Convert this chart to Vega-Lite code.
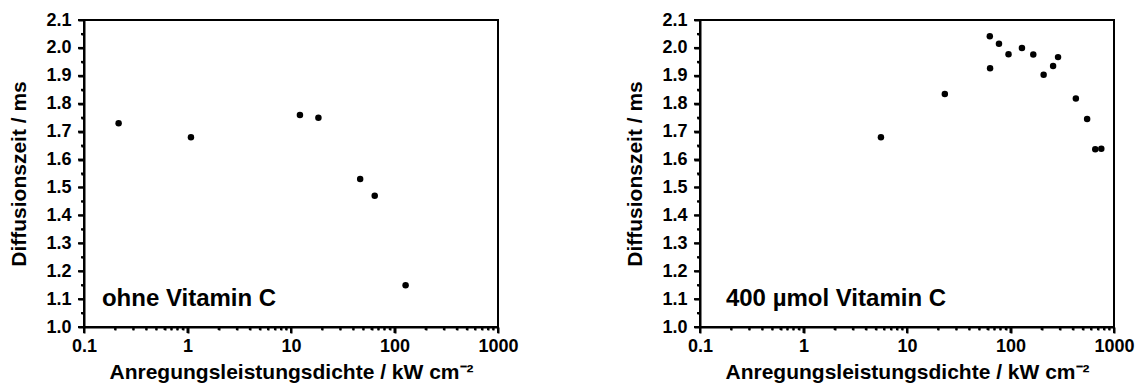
{
  "$schema": "https://vega.github.io/schema/vega-lite/v6.json",
  "padding": {"left": 7, "top": 10, "right": 0, "bottom": 0},
  "background": "white",
  "config": {
    "font": "Liberation Sans",
    "view": {"stroke": "black", "strokeWidth": 2},
    "axis": {
      "grid": false,
      "domain": true,
      "domainColor": "black",
      "domainWidth": 2,
      "ticks": true,
      "tickColor": "black",
      "tickWidth": 2,
      "labelFont": "Liberation Sans",
      "labelFontWeight": "bold",
      "labelFontSize": 18,
      "labelColor": "black",
      "titleFont": "Liberation Sans",
      "titleFontWeight": "bold",
      "titleFontSize": 21,
      "titleColor": "black"
    },
    "concat": {"spacing": 103}
  },
  "datasets": {
    "ohne": [
      {"P": 0.216, "t": 1.73},
      {"P": 1.08, "t": 1.68},
      {"P": 12.2, "t": 1.76},
      {"P": 18.4, "t": 1.75},
      {"P": 46.6, "t": 1.53},
      {"P": 64.4, "t": 1.47},
      {"P": 128, "t": 1.15}
    ],
    "vitc": [
      {"P": 5.6, "t": 1.68},
      {"P": 23.2, "t": 1.835},
      {"P": 63.1, "t": 2.042},
      {"P": 63.5, "t": 1.927},
      {"P": 77.4, "t": 2.015},
      {"P": 95.7, "t": 1.977},
      {"P": 129, "t": 2.0},
      {"P": 166, "t": 1.976},
      {"P": 209, "t": 1.904},
      {"P": 258, "t": 1.935},
      {"P": 288, "t": 1.967},
      {"P": 428, "t": 1.819},
      {"P": 550, "t": 1.745},
      {"P": 659, "t": 1.637},
      {"P": 754, "t": 1.639}
    ],
    "xticks": [
      {"v": 0.1, "kind": "major"}, {"v": 0.2, "kind": "minor"}, {"v": 0.3, "kind": "minor"}, {"v": 0.4, "kind": "minor"}, {"v": 0.5, "kind": "minor"}, {"v": 0.6, "kind": "minor"}, {"v": 0.7, "kind": "minor"}, {"v": 0.8, "kind": "minor"}, {"v": 0.9, "kind": "minor"},
      {"v": 1, "kind": "major"}, {"v": 2, "kind": "minor"}, {"v": 3, "kind": "minor"}, {"v": 4, "kind": "minor"}, {"v": 5, "kind": "minor"}, {"v": 6, "kind": "minor"}, {"v": 7, "kind": "minor"}, {"v": 8, "kind": "minor"}, {"v": 9, "kind": "minor"},
      {"v": 10, "kind": "major"}, {"v": 20, "kind": "minor"}, {"v": 30, "kind": "minor"}, {"v": 40, "kind": "minor"}, {"v": 50, "kind": "minor"}, {"v": 60, "kind": "minor"}, {"v": 70, "kind": "minor"}, {"v": 80, "kind": "minor"}, {"v": 90, "kind": "minor"},
      {"v": 100, "kind": "major"}, {"v": 200, "kind": "minor"}, {"v": 300, "kind": "minor"}, {"v": 400, "kind": "minor"}, {"v": 500, "kind": "minor"}, {"v": 600, "kind": "minor"}, {"v": 700, "kind": "minor"}, {"v": 800, "kind": "minor"}, {"v": 900, "kind": "minor"},
      {"v": 1000, "kind": "major"}
    ],
    "yticks": [
      {"v": 1.0, "kind": "major"}, {"v": 1.05, "kind": "minor"}, {"v": 1.1, "kind": "major"}, {"v": 1.15, "kind": "minor"},
      {"v": 1.2, "kind": "major"}, {"v": 1.25, "kind": "minor"}, {"v": 1.3, "kind": "major"}, {"v": 1.35, "kind": "minor"},
      {"v": 1.4, "kind": "major"}, {"v": 1.45, "kind": "minor"}, {"v": 1.5, "kind": "major"}, {"v": 1.55, "kind": "minor"},
      {"v": 1.6, "kind": "major"}, {"v": 1.65, "kind": "minor"}, {"v": 1.7, "kind": "major"}, {"v": 1.75, "kind": "minor"},
      {"v": 1.8, "kind": "major"}, {"v": 1.85, "kind": "minor"}, {"v": 1.9, "kind": "major"}, {"v": 1.95, "kind": "minor"},
      {"v": 2.0, "kind": "major"}, {"v": 2.05, "kind": "minor"}, {"v": 2.1, "kind": "major"}
    ]
  },
  "hconcat": [
    {
      "width": 414,
      "height": 307,
      "resolve": {"axis": {"x": "independent", "y": "independent"}},
      "layer": [
        {
          "data": {"name": "ohne"},
          "mark": {"type": "circle", "size": 42, "color": "black", "opacity": 1},
          "encoding": {
            "x": {
              "field": "P", "type": "quantitative",
              "scale": {"type": "log", "domain": [0.1, 1000], "nice": false},
              "axis": {
                "orient": "bottom",
                "title": "Anregungsleistungsdichte / kW cm⁻²",
                "values": [0.1, 1, 10, 100, 1000],
                "labelExpr": "'' + datum.value",
                "labelFlush": false,
                "labelPadding": 4,
                "titlePadding": 6,
                "tickSize": 6
              }
            },
            "y": {
              "field": "t", "type": "quantitative",
              "scale": {"domain": [1.0, 2.1], "zero": false, "nice": false},
              "axis": {
                "orient": "left",
                "title": "Diffusionszeit / ms",
                "values": [1.0, 1.1, 1.2, 1.3, 1.4, 1.5, 1.6, 1.7, 1.8, 1.9, 2.0, 2.1],
                "format": ".1f",
                "labelPadding": 7,
                "titlePadding": 16,
                "tickSize": 6
              }
            }
          }
        },
        {
          "data": {"values": [{}]},
          "mark": {"type": "text", "align": "left", "baseline": "alphabetic", "fontSize": 24, "fontWeight": "bold", "font": "Liberation Sans", "color": "black"},
          "encoding": {
            "x": {
              "datum": 0.149, "type": "quantitative",
              "axis": {
                "orient": "bottom", "title": null, "labels": false, "domain": false, "tickSize": 3,
                "values": [0.2,0.3,0.4,0.5,0.6,0.7,0.8,0.9,2,3,4,5,6,7,8,9,20,30,40,50,60,70,80,90,200,300,400,500,600,700,800,900]
              }
            },
            "y": {
              "datum": 1.075, "type": "quantitative",
              "axis": {
                "orient": "left", "title": null, "labels": false, "domain": false, "tickSize": 3,
                "values": [1.05, 1.15, 1.25, 1.35, 1.45, 1.55, 1.65, 1.75, 1.85, 1.95, 2.05]
              }
            },
            "text": {"value": "ohne Vitamin C"}
          }
        },
        {
          "data": {"name": "xticks"},
          "transform": [{"filter": "datum.kind == 'major'"}],
          "mark": {"type": "tick", "orient": "vertical", "size": 6, "thickness": 2, "yOffset": 3, "color": "black", "opacity": 1},
          "encoding": {
            "x": {"field": "v", "type": "quantitative", "axis": null},
            "y": {"datum": 1.0, "type": "quantitative", "axis": null}
          }
        },
        {
          "data": {"name": "xticks"},
          "transform": [{"filter": "datum.kind == 'minor'"}],
          "mark": {"type": "tick", "orient": "vertical", "size": 3, "thickness": 2, "yOffset": 1.5, "color": "black", "opacity": 1},
          "encoding": {
            "x": {"field": "v", "type": "quantitative", "axis": null},
            "y": {"datum": 1.0, "type": "quantitative", "axis": null}
          }
        },
        {
          "data": {"name": "yticks"},
          "transform": [{"filter": "datum.kind == 'major'"}],
          "mark": {"type": "tick", "orient": "horizontal", "size": 6, "thickness": 2, "xOffset": -3, "color": "black", "opacity": 1},
          "encoding": {
            "y": {"field": "v", "type": "quantitative", "axis": null},
            "x": {"datum": 0.1, "type": "quantitative", "axis": null}
          }
        },
        {
          "data": {"name": "yticks"},
          "transform": [{"filter": "datum.kind == 'minor'"}],
          "mark": {"type": "tick", "orient": "horizontal", "size": 3, "thickness": 2, "xOffset": -1.5, "color": "black", "opacity": 1},
          "encoding": {
            "y": {"field": "v", "type": "quantitative", "axis": null},
            "x": {"datum": 0.1, "type": "quantitative", "axis": null}
          }
        }
      ]
    },
    {
      "width": 414,
      "height": 307,
      "resolve": {"axis": {"x": "independent", "y": "independent"}},
      "layer": [
        {
          "data": {"name": "vitc"},
          "mark": {"type": "circle", "size": 42, "color": "black", "opacity": 1},
          "encoding": {
            "x": {
              "field": "P", "type": "quantitative",
              "scale": {"type": "log", "domain": [0.1, 1000], "nice": false},
              "axis": {
                "orient": "bottom",
                "title": "Anregungsleistungsdichte / kW cm⁻²",
                "values": [0.1, 1, 10, 100, 1000],
                "labelExpr": "'' + datum.value",
                "labelFlush": false,
                "labelPadding": 4,
                "titlePadding": 6,
                "tickSize": 6
              }
            },
            "y": {
              "field": "t", "type": "quantitative",
              "scale": {"domain": [1.0, 2.1], "zero": false, "nice": false},
              "axis": {
                "orient": "left",
                "title": "Diffusionszeit / ms",
                "values": [1.0, 1.1, 1.2, 1.3, 1.4, 1.5, 1.6, 1.7, 1.8, 1.9, 2.0, 2.1],
                "format": ".1f",
                "labelPadding": 7,
                "titlePadding": 16,
                "tickSize": 6
              }
            }
          }
        },
        {
          "data": {"values": [{}]},
          "mark": {"type": "text", "align": "left", "baseline": "alphabetic", "fontSize": 24, "fontWeight": "bold", "font": "Liberation Sans", "color": "black"},
          "encoding": {
            "x": {
              "datum": 0.178, "type": "quantitative",
              "axis": {
                "orient": "bottom", "title": null, "labels": false, "domain": false, "tickSize": 3,
                "values": [0.2,0.3,0.4,0.5,0.6,0.7,0.8,0.9,2,3,4,5,6,7,8,9,20,30,40,50,60,70,80,90,200,300,400,500,600,700,800,900]
              }
            },
            "y": {
              "datum": 1.075, "type": "quantitative",
              "axis": {
                "orient": "left", "title": null, "labels": false, "domain": false, "tickSize": 3,
                "values": [1.05, 1.15, 1.25, 1.35, 1.45, 1.55, 1.65, 1.75, 1.85, 1.95, 2.05]
              }
            },
            "text": {"value": "400 µmol Vitamin C"}
          }
        },
        {
          "data": {"name": "xticks"},
          "transform": [{"filter": "datum.kind == 'major'"}],
          "mark": {"type": "tick", "orient": "vertical", "size": 6, "thickness": 2, "yOffset": 3, "color": "black", "opacity": 1},
          "encoding": {
            "x": {"field": "v", "type": "quantitative", "axis": null},
            "y": {"datum": 1.0, "type": "quantitative", "axis": null}
          }
        },
        {
          "data": {"name": "xticks"},
          "transform": [{"filter": "datum.kind == 'minor'"}],
          "mark": {"type": "tick", "orient": "vertical", "size": 3, "thickness": 2, "yOffset": 1.5, "color": "black", "opacity": 1},
          "encoding": {
            "x": {"field": "v", "type": "quantitative", "axis": null},
            "y": {"datum": 1.0, "type": "quantitative", "axis": null}
          }
        },
        {
          "data": {"name": "yticks"},
          "transform": [{"filter": "datum.kind == 'major'"}],
          "mark": {"type": "tick", "orient": "horizontal", "size": 6, "thickness": 2, "xOffset": -3, "color": "black", "opacity": 1},
          "encoding": {
            "y": {"field": "v", "type": "quantitative", "axis": null},
            "x": {"datum": 0.1, "type": "quantitative", "axis": null}
          }
        },
        {
          "data": {"name": "yticks"},
          "transform": [{"filter": "datum.kind == 'minor'"}],
          "mark": {"type": "tick", "orient": "horizontal", "size": 3, "thickness": 2, "xOffset": -1.5, "color": "black", "opacity": 1},
          "encoding": {
            "y": {"field": "v", "type": "quantitative", "axis": null},
            "x": {"datum": 0.1, "type": "quantitative", "axis": null}
          }
        }
      ]
    }
  ]
}
